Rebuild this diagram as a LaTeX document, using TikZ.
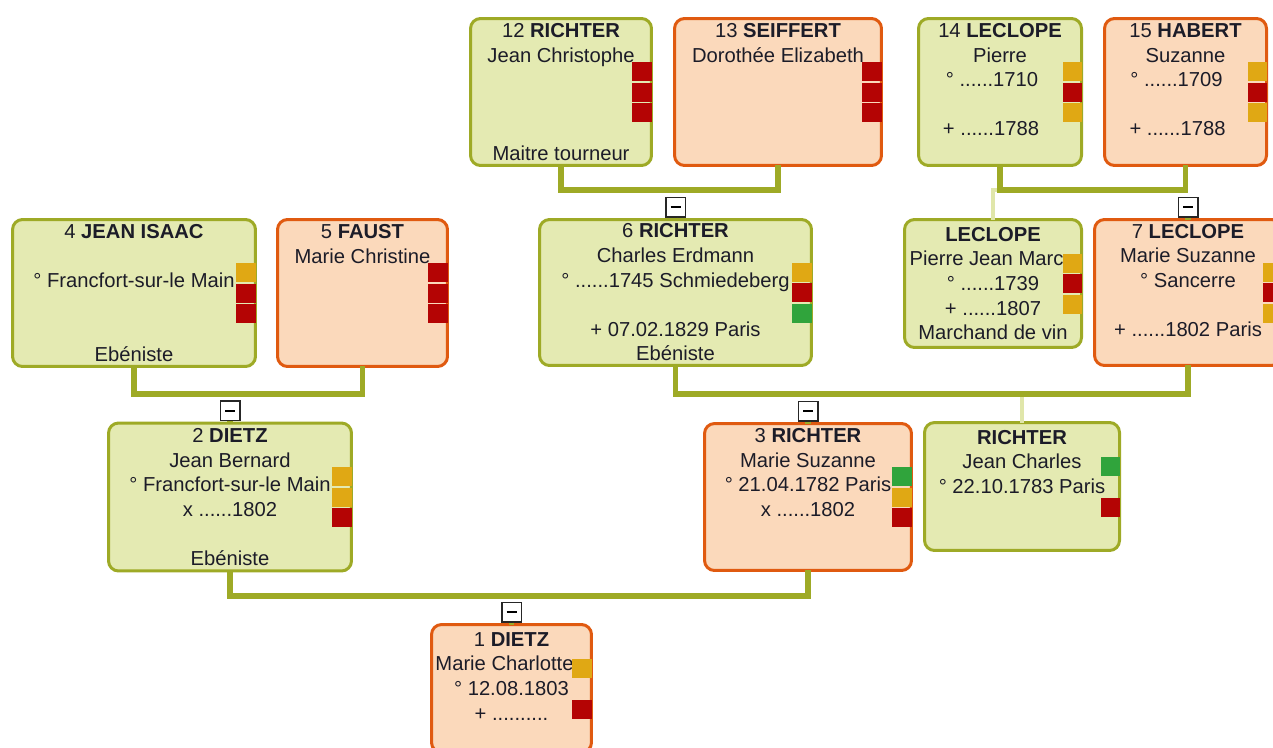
\documentclass[tikz,border=0pt]{standalone}
\usepackage{fontspec}
\setmainfont{Liberation Sans}
\usetikzlibrary{calc,positioning}
\definecolor{mangreen}{RGB}{158,170,38}
\definecolor{manfill}{RGB}{228,234,178}
\definecolor{womanorange}{RGB}{224,90,16}
\definecolor{womanfill}{RGB}{251,217,187}
\definecolor{linkgreen}{RGB}{158,170,38}
\definecolor{siblight}{RGB}{224,230,170}
\definecolor{flagorange}{RGB}{224,168,20}
\definecolor{flagred}{RGB}{180,4,4}
\definecolor{flaggreen}{RGB}{48,164,60}
\definecolor{txtdark}{RGB}{28,28,40}

\tikzset{
  person/.style={rectangle, rounded corners=0.2cm, line width=0.06cm, inner sep=0pt, outer sep=0pt,
    align=center, text=txtdark, font=\fontsize{11.5}{14.0}\selectfont},
  man/.style={person, draw=mangreen, fill=manfill},
  woman/.style={person, draw=womanorange, fill=womanfill},
  link/.style={draw=linkgreen, line width=0.11cm},
  sib/.style={draw=siblight, line width=0.08cm},
  minus/.style={draw=black!85, fill=white, line width=0.03cm, minimum size=0.39cm, inner sep=0pt}
}

% three colour marks on the right edge of a person box
\newcommand{\flags}[2]{%
  \foreach \c [count=\i from 0] in {#2}
    \path[fill=\c] ($(#1.east)+(-19,{-30+20.5*\i})$) rectangle +(19.5,19);
}
\newcommand{\minussign}{\rule[-0.02cm]{0.2cm}{0.04cm}}
% invisible right padding, pushes a centred line to the left
\newcommand{\padr}[1]{\rule{#1}{0pt}}

\begin{document}
\begin{tikzpicture}[x=0.02cm, y=-0.02cm]
  \useasboundingbox (0,0) rectangle (1273,747);
  \clip (0,0) rectangle (1273,747);

  % great-grandparents
  \node[man, minimum width=3.62cm, minimum height=2.94cm] (p12) at (561,92)
    {12 \textbf{RICHTER}\\Jean Christophe\\~\\~\\~\\Maitre tourneur};
  \node[woman, minimum width=4.14cm, minimum height=2.94cm] (p13) at (778,92)
    {13 \textbf{SEIFFERT}\\Dorothée Elizabeth\\~\\~\\~\\~};
  \node[man, minimum width=3.26cm, minimum height=2.94cm] (p14) at (1000,92)
    {14 \textbf{LECLOPE}\\Pierre\\° ......1710\padr{0.32cm}\\~\\+ ......1788\padr{0.36cm}\\~};
  \node[woman, minimum width=3.24cm, minimum height=2.94cm] (p15) at (1185.5,92)
    {15 \textbf{HABERT}\\Suzanne\\° ......1709\padr{0.36cm}\\~\\+ ......1788\padr{0.32cm}\\~};

  % grandparents
  \node[man, minimum width=4.86cm, minimum height=2.94cm] (p4) at (134,293)
    {4 \textbf{JEAN ISAAC}\\~\\° Francfort-sur-le Main\\~\\~\\Ebéniste};
  \node[woman, minimum width=3.40cm, minimum height=2.94cm] (p5) at (362.5,293)
    {5 \textbf{FAUST}\\Marie Christine\\~\\~\\~\\~};
  \node[man, minimum width=5.44cm, minimum height=2.92cm] (p6) at (675.5,292.5)
    {6 \textbf{RICHTER}\\Charles Erdmann\\° ......1745 Schmiedeberg\\~\\+ 07.02.1829 Paris\\Ebéniste};
  \node[man, minimum width=3.54cm, minimum height=2.56cm] (ps) at (993,283.5)
    {\textbf{LECLOPE}\\Pierre Jean Marc\padr{0.26cm}\\° ......1739\\+ ......1807\\Marchand de vin};
  \node[woman, minimum width=3.74cm, minimum height=2.92cm] (p7) at (1188,292.5)
    {7 \textbf{LECLOPE}\\Marie Suzanne\\° Sancerre\\~\\+ ......1802 Paris\\~};

  % parents
  \node[man, minimum width=4.86cm, minimum height=2.96cm] (p2) at (230,497)
    {2 \textbf{DIETZ}\\Jean Bernard\\° Francfort-sur-le Main\\x ......1802\\~\\Ebéniste};
  \node[woman, minimum width=4.14cm, minimum height=2.94cm] (p3) at (808,497)
    {3 \textbf{RICHTER}\\Marie Suzanne\\° 21.04.1782 Paris\\x ......1802\\~\\~};
  \node[man, minimum width=3.90cm, minimum height=2.56cm] (pj) at (1022,486.5)
    {\textbf{RICHTER}\\Jean Charles\\° 22.10.1783 Paris\\~\\~};

  % root
  \node[woman, minimum width=3.20cm, minimum height=2.56cm] (p1) at (511.5,688.5)
    {1 \textbf{DIETZ}\\Marie Charlotte\padr{0.28cm}\\° 12.08.1803\\+ ..........\\~};

  \flags{p12}{flagred,flagred,flagred}
  \flags{p13}{flagred,flagred,flagred}
  \flags{p14}{flagorange,flagred,flagorange}
  \flags{p15}{flagorange,flagred,flagorange}
  \flags{p4}{flagorange,flagred,flagred}
  \flags{p5}{flagred,flagred,flagred}
  \flags{p6}{flagorange,flagred,flaggreen}
  \flags{ps}{flagorange,flagred,flagorange}
  \flags{p7}{flagorange,flagred,flagorange}
  \flags{p2}{flagorange,flagorange,flagred}
  \flags{p3}{flaggreen,flagorange,flagred}
  \flags{pj}{flaggreen,none,flagred}
  \flags{p1}{flagorange,none,flagred}

  % couple bars
  \coordinate (j6) at ($(p12.south)+(0,24.5)$);
  \coordinate (j7) at ($(p14.south)+(0,24.5)$);
  \coordinate (j2) at ($(p4.south)+(0,27.5)$);
  \coordinate (j3) at ($(p6.south)+(0,28.5)$);
  \coordinate (j1) at ($(p2.south)+(0,25)$);

  \draw[sib] (ps.north) |- (j7);
  \draw[sib] (pj.north) -- (pj.north |- j3);

  \draw[link] (p12.south) -- (j6) -| (p13.south);
  \draw[link] (p14.south) -- (j7) -| (p15.south);
  \draw[link] (p4.south) -- (j2) -| (p5.south);
  \draw[link] (p6.south) -- (j3) -| (p7.south);
  \draw[link] (p2.south) -- (j1) -| (p3.south);

  % collapse buttons
  \node[minus, above=0.04cm of p6] (m6) {\minussign};
  \node[minus, above=0.04cm of p7] (m7) {\minussign};
  \node[minus, above=0.04cm of p2] (m2) {\minussign};
  \node[minus, above=0.04cm of p3] (m3) {\minussign};
  \node[minus, above=0.04cm of p1] (m1) {\minussign};
  \draw[link] (m6) -- (p6);
  \draw[link] (m7) -- (p7);
  \draw[link] (m2) -- (p2);
  \draw[link] (m3) -- (p3);
  \draw[link] (m1) -- (p1);
\end{tikzpicture}
\end{document}
